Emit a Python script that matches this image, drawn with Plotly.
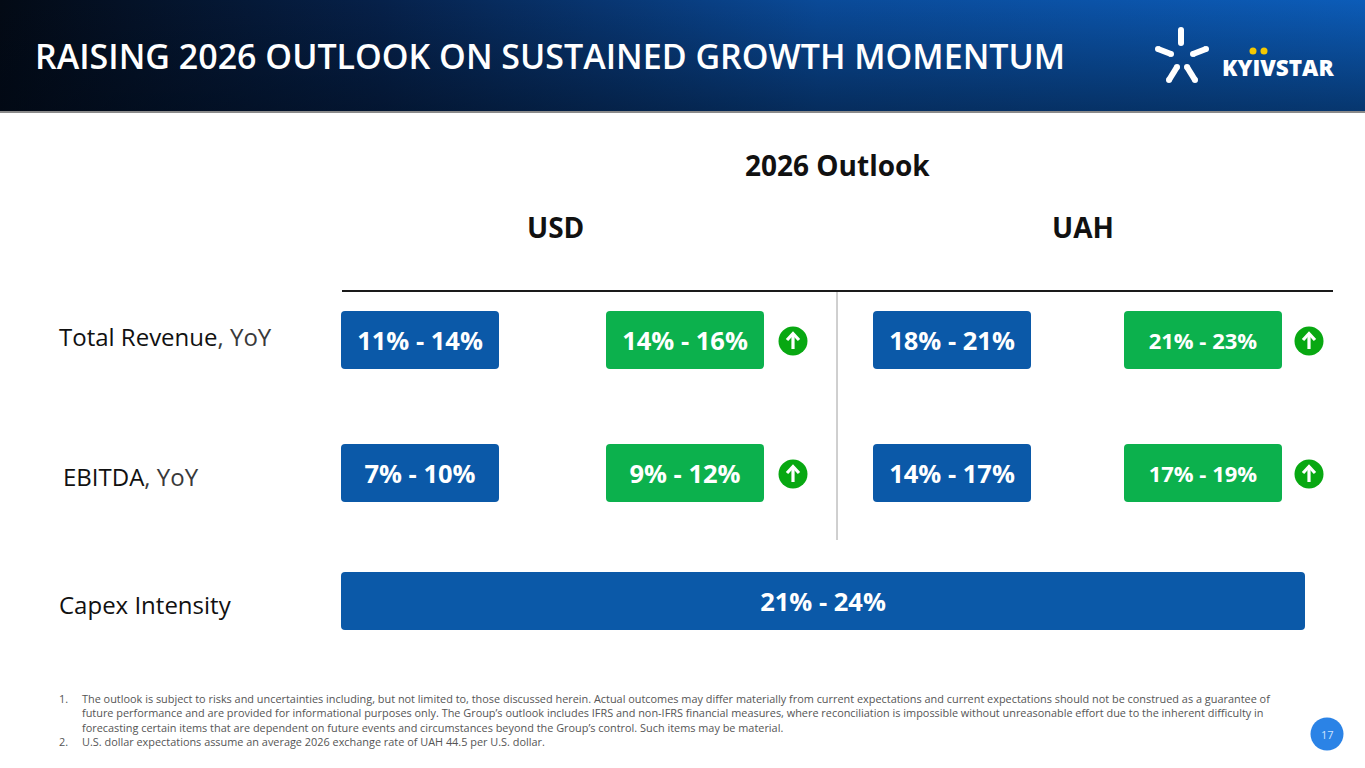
import plotly.graph_objects as go

# Outlook data (as shown on the slide)
metrics = ["Total Revenue", "EBITDA", "Capex Intensity"]
usd_prior = ["11% - 14%", "7% - 10%"]
usd_raised = ["14% - 16%", "9% - 12%"]
uah_prior = ["18% - 21%", "14% - 17%"]
uah_raised = ["21% - 23%", "17% - 19%"]
capex_intensity = ["21% - 24%"]

footnotes = [
    ("1.", "The outlook is subject to risks and uncertainties including, but not limited to, those discussed herein. Actual outcomes may differ materially from current expectations and current expectations should not be construed as a guarantee of"),
    ("", "future performance and are provided for informational purposes only. The Group\u2019s outlook includes IFRS and non-IFRS financial measures, where reconciliation is impossible without unreasonable effort due to the inherent difficulty in"),
    ("", "forecasting certain items that are dependent on future events and circumstances beyond the Group\u2019s control. Such items may be material."),
    ("2.", "U.S. dollar expectations assume an average 2026 exchange rate of UAH 44.5 per U.S. dollar."),
]

# layout constants (pixel grid of the slide)
W, H = 1365, 768
row_y = [340, 473, 601]
col_x0 = [341, 606, 873, 1124]
box_w, box_h = 158, 58
capex_x0, capex_w = 341, 964
arrow_x = [793, 1309]

BLUE = "#0b59a8"
GREEN = "#0cb14d"
ARROW_GREEN = "#08a812"
FONT = "Open Sans"

fig = go.Figure()

# header band with gradient
hx = [0, W, W, 0, 0]
hy = [0, 0, 112, 112, 0]
fig.add_trace(go.Scatter(
    x=hx, y=hy, mode="lines", fill="toself", line=dict(width=0),
    fillgradient=dict(type="horizontal", colorscale=[
        [0, "#030a15"], [0.28, "#06214a"], [0.6, "#0a4a98"], [1, "#0c5cb8"]]),
    hoverinfo="skip", showlegend=False))
fig.add_trace(go.Scatter(
    x=hx, y=hy, mode="lines", fill="toself", line=dict(width=0),
    fillgradient=dict(type="vertical", colorscale=[
        [0, "rgba(0,8,20,0.45)"], [1, "rgba(0,8,20,0)"]]),
    hoverinfo="skip", showlegend=False))

# boxes: prior (blue) and raised (green) guidance
def add_boxes(labels, x0, color, rows, size):
    fig.add_trace(go.Bar(
        orientation="h",
        y=[row_y[r] for r in rows],
        base=[x0] * len(labels),
        x=[box_w] * len(labels),
        width=[box_h] * len(labels),
        text=labels,
        textposition="inside",
        insidetextanchor="middle",
        textangle=0,
        constraintext="none",
        textfont=dict(family=FONT, size=size, color="white", weight=700),
        marker=dict(color=color, line=dict(width=0)),
        hoverinfo="skip", showlegend=False))

add_boxes(usd_prior, col_x0[0], BLUE, [0, 1], 25.5)
add_boxes(usd_raised, col_x0[1], GREEN, [0, 1], 25.5)
add_boxes(uah_prior, col_x0[2], BLUE, [0, 1], 25.5)
add_boxes(uah_raised, col_x0[3], GREEN, [0, 1], 22)

fig.add_trace(go.Bar(
    orientation="h", y=[row_y[2]], base=[capex_x0], x=[capex_w], width=[box_h],
    text=capex_intensity, textposition="inside", insidetextanchor="middle",
    textangle=0, constraintext="none",
    textfont=dict(family=FONT, size=25.5, color="white", weight=700),
    marker=dict(color=BLUE, line=dict(width=0)),
    hoverinfo="skip", showlegend=False))

# "raised" arrows
for r in [0, 1]:
    for ax in arrow_x:
        cy = row_y[r] + 1
        fig.add_trace(go.Scatter(
            x=[ax], y=[cy], mode="markers",
            marker=dict(size=29, color=ARROW_GREEN, line=dict(width=0)),
            hoverinfo="skip", showlegend=False))
        fig.add_trace(go.Scatter(
            x=[ax, ax, None, ax - 6, ax, ax + 6],
            y=[cy + 8, cy - 7, None, cy - 1, cy - 7.5, cy - 1],
            mode="lines", line=dict(color="white", width=3.2),
            hoverinfo="skip", showlegend=False))

# logo star strokes
strokes = [((1181, 30), (1181, 43)), ((1158, 49), (1171, 54)), ((1193, 54), (1206, 49)),
           ((1177, 67), (1169, 80)), ((1187, 67), (1195, 80))]
for (a, b) in strokes:
    fig.add_trace(go.Scatter(
        x=[a[0], b[0]], y=[a[1], b[1]], mode="lines+markers",
        line=dict(color="white", width=6), marker=dict(size=6, color="white"),
        hoverinfo="skip", showlegend=False))
fig.add_trace(go.Scatter(
    x=[1253, 1264], y=[51, 51], mode="markers",
    marker=dict(size=7, color="#f5c800"), hoverinfo="skip", showlegend=False))

# page number
fig.add_trace(go.Scatter(
    x=[1327], y=[734], mode="markers",
    marker=dict(size=33, color="#2b83e6"), hoverinfo="skip", showlegend=False))

shapes = [
    dict(type="rect", x0=0, x1=W, y0=111, y1=113, fillcolor="#8a8a8a", line=dict(width=0), layer="above"),
    dict(type="line", x0=342, x1=1333, y0=291, y1=291, line=dict(color="#1a1a1a", width=2)),
    dict(type="line", x0=837, x1=837, y0=292, y1=540, line=dict(color="#a0a0a0", width=1)),
]

ann = []
ann.append(dict(x=33, y=56, text="RAISING 2026 OUTLOOK ON SUSTAINED GROWTH MOMENTUM",
                xanchor="left", yanchor="middle", showarrow=False,
                font=dict(family=FONT, size=34, color="white", weight=600)))
ann.append(dict(x=1220, y=67, text="KYIVSTAR", xanchor="left", yanchor="middle", showarrow=False,
                font=dict(family=FONT, size=22.5, color="white", weight=800)))
ann.append(dict(x=837, y=165, text="2026 Outlook", showarrow=False,
                font=dict(family=FONT, size=28, color="#111111", weight=700)))
ann.append(dict(x=555, y=227, text="USD", showarrow=False,
                font=dict(family=FONT, size=28, color="#111111", weight=700)))
ann.append(dict(x=1083, y=227, text="UAH", showarrow=False,
                font=dict(family=FONT, size=28, color="#111111", weight=700)))

label_text = [metrics[0] + "<span style='color:#3a3a3a'>, YoY</span>",
              metrics[1] + "<span style='color:#3a3a3a'>, YoY</span>",
              metrics[2]]
label_x = [57, 61, 57]
label_y = [row_y[0] - 4, row_y[1] + 3, row_y[2] + 3]
for i, t in enumerate(label_text):
    ann.append(dict(x=label_x[i], y=label_y[i], text=t,
                    xanchor="left", yanchor="middle", showarrow=False,
                    font=dict(family=FONT, size=24, color="#111111")))

fy = [698, 712, 727, 741]
for i, (num, txt) in enumerate(footnotes):
    if num:
        ann.append(dict(x=57, y=fy[i], text=num, xanchor="left", yanchor="middle", showarrow=False,
                        font=dict(family=FONT, size=10.9, color="#555555")))
    ann.append(dict(x=80, y=fy[i], text=txt, xanchor="left", yanchor="middle", showarrow=False,
                    font=dict(family=FONT, size=10.9, color="#555555")))

ann.append(dict(x=1327, y=734, text="17", showarrow=False,
                font=dict(family=FONT, size=11, color="#cfe3ff")))

fig.update_layout(
    width=W, height=H,
    margin=dict(l=0, r=0, t=0, b=0),
    paper_bgcolor="white", plot_bgcolor="white",
    xaxis=dict(range=[0, W], visible=False, fixedrange=True),
    yaxis=dict(range=[H, 0], visible=False, fixedrange=True),
    barmode="overlay",
    barcornerradius=4,
    shapes=shapes,
    annotations=ann,
    showlegend=False,
)

fig.write_html("out.html", config={"displayModeBar": False},
               post_script="document.body.style.margin='0';")
